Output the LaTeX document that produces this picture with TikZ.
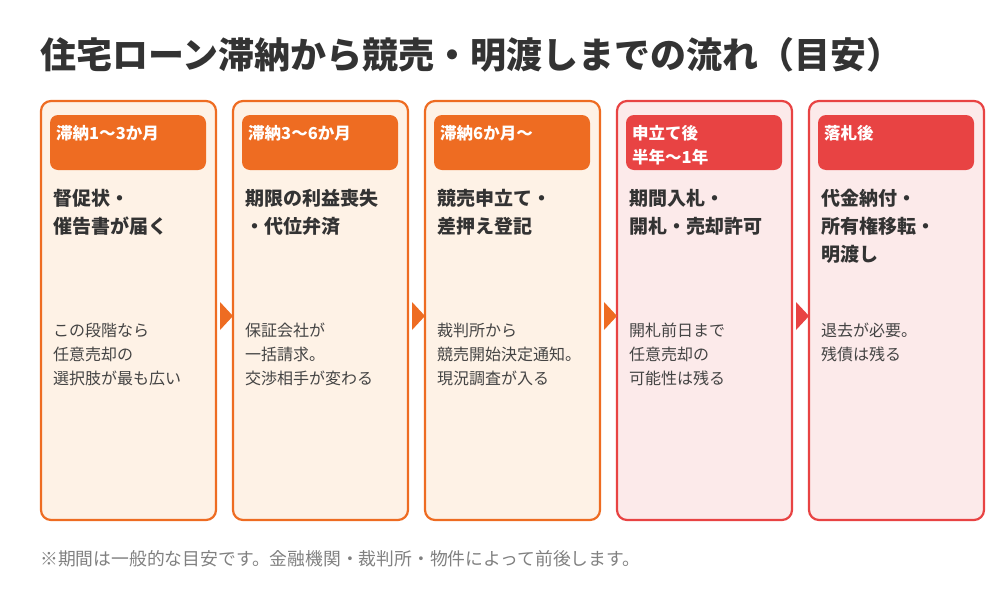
\documentclass[tikz,border=0pt]{standalone}
\usepackage{fontspec}
\setmainfont{Noto Sans CJK JP}
\usetikzlibrary{positioning}
\definecolor{orng}{HTML}{EE6C22}
\definecolor{orngbg}{HTML}{FEF2E6}
\definecolor{redd}{HTML}{E84343}
\definecolor{reddbg}{HTML}{FCEAEA}
\definecolor{ink}{HTML}{333333}
\definecolor{soft}{HTML}{444444}
\begin{document}
\begin{tikzpicture}[x=1pt,y=-1pt,
  card/.style={draw=#1,line width=2.2pt,rounded corners=10pt,fill=#1bg},
  head/.style={fill=#1,rounded corners=8pt},
  headtxt/.style={anchor=north west,text=white,font=\fontsize{16.5}{24}\selectfont\bfseries,align=left,inner sep=0pt},
  bold/.style={anchor=north west,text=ink,font=\fontsize{19}{28}\selectfont\bfseries,align=left,inner sep=0pt},
  body/.style={anchor=north west,text=soft,font=\fontsize{16}{24}\selectfont,align=left,inner sep=0pt}]
\useasboundingbox (0,0) rectangle (1000,600);
\node[anchor=west,text=ink,font=\fontsize{36}{38}\selectfont\bfseries,inner sep=0pt] (title) at (40,55) {住宅ローン滞納から競売・明渡しまでの流れ（目安）};
\newcommand\step[6]{
\draw[card=#2] (#1,101) rectangle ++(175,419);
\fill[head=#2] (#1+9,115) rectangle ++(156,55);
\node[headtxt] (h#1) at (#1+15,125) {#3};
\node[bold] (b#1) at (#1+12,189) {#4};
\node[body] (t#1) at (#1+12,323) {#5};
}
\step{41}{orng}{滞納1〜3か月}{督促状・\\催告書が届く}{この段階なら\\任意売却の\\選択肢が最も広い}{}
\step{233}{orng}{滞納3〜6か月}{期限の利益喪失\\・代位弁済}{保証会社が\\一括請求。\\交渉相手が変わる}{}
\step{425}{orng}{滞納6か月〜}{競売申立て・\\差押え登記}{裁判所から\\競売開始決定通知。\\現況調査が入る}{}
\step{617}{redd}{申立て後\\半年〜1年}{期間入札・\\開札・売却許可}{開札前日まで\\任意売却の\\可能性は残る}{}
\step{809}{redd}{落札後}{代金納付・\\所有権移転・\\明渡し}{退去が必要。\\残債は残る}{}
\foreach \ax/\col in {220/orng,412/orng,604/orng,796/redd}
  \fill[\col] (\ax,302) -- (\ax+13,316) -- (\ax,330) -- cycle;
\node[anchor=west,text=gray,font=\fontsize{17.8}{20}\selectfont,inner sep=0pt] (note) at (40,559) {※期間は一般的な目安です。金融機関・裁判所・物件によって前後します。};
\end{tikzpicture}
\end{document}
